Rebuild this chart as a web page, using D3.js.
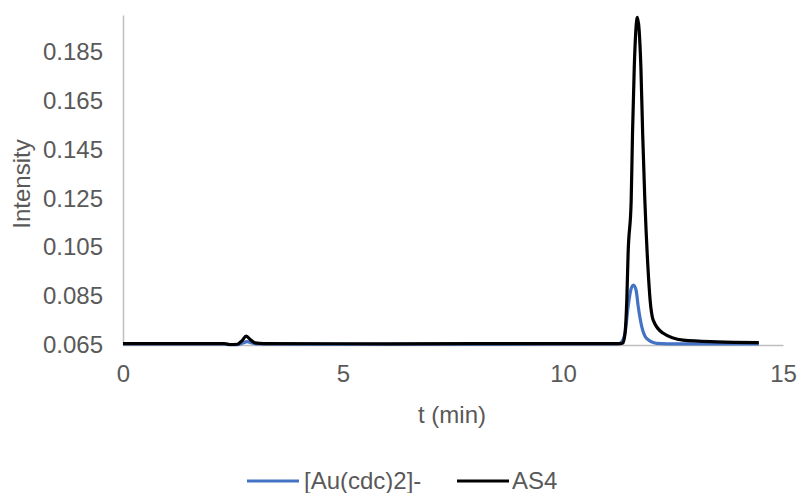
<!DOCTYPE html>
<html><head><meta charset="utf-8">
<script src="https://cdn.jsdelivr.net/npm/d3@7"></script>
<style>body{margin:0;background:#fff}svg{display:block}text{font-family:"Liberation Sans",Arial,sans-serif}</style>
</head><body><svg id="c" width="799" height="493"></svg>
<script>
// Data
const seriesNames = ["[Au(cdc)2]-", "AS4"];
const auTime = [0, 2.3, 2.45, 2.6, 2.72, 2.82, 2.95, 3.1, 6, 10, 11.25, 11.32, 11.41, 11.48, 11.54, 11.60, 11.66, 11.71, 11.79, 11.90, 12.13, 12.36, 13.5, 14.45];
const auValue = [0.0655, 0.0654, 0.0651, 0.0651, 0.0658, 0.0664, 0.0657, 0.0654, 0.0653, 0.0654, 0.0655, 0.0660, 0.0699, 0.0807, 0.0875, 0.0895, 0.0875, 0.0807, 0.0725, 0.0677, 0.0657, 0.0655, 0.0655, 0.0655];
const as4Time = [0, 2.3, 2.42, 2.6, 2.7, 2.8, 2.9, 3.0, 3.2, 6, 10, 11.3, 11.36, 11.41, 11.45, 11.48, 11.55, 11.58, 11.62, 11.69, 11.77, 11.81, 11.86, 11.93, 11.98, 12.05, 12.27, 12.73, 13.5, 14.45];
const as4Value = [0.0656, 0.0656, 0.0652, 0.0653, 0.0667, 0.0686, 0.0671, 0.0659, 0.0656, 0.0655, 0.0656, 0.0656, 0.0658, 0.0699, 0.0834, 0.1026, 0.1243, 0.1517, 0.1788, 0.1990, 0.1788, 0.1517, 0.1243, 0.0969, 0.0834, 0.0752, 0.0699, 0.0670, 0.0663, 0.0660];
const xTicks = [0, 5, 10, 15];
const yTicks = [0.065, 0.085, 0.105, 0.125, 0.145, 0.165, 0.185];
const colors = ["#4472C4", "#000000"];

const FS = "24px";
const svg = d3.select("#c");
const x = d3.scaleLinear().domain([0, 15]).range([123, 783]);
const y = d3.scaleLinear().domain([0.065, 0.2]).range([345, 15]);

// axes
const xa = svg.append("g").attr("transform", "translate(0,345)")
  .call(d3.axisBottom(x).tickValues(xTicks).tickSize(0).tickPadding(20).tickFormat(d3.format("d")));
const ya = svg.append("g").attr("transform", "translate(123,0)")
  .call(d3.axisLeft(y).tickValues(yTicks).tickSize(0).tickPadding(20).tickFormat(d3.format(".3f")));
[xa, ya].forEach(g => {
  g.select(".domain").attr("stroke", "#BFBFBF").attr("stroke-width", 1.5);
  g.selectAll("text").attr("fill", "#595959").style("font-size", FS).style("font-family", '"Liberation Sans",Arial,sans-serif');
});

const line = d3.line().x(d => x(d[0])).y(d => y(d[1])).curve(d3.curveMonotoneX);
const data = [d3.zip(auTime, auValue), d3.zip(as4Time, as4Value)];
data.forEach((pts, i) => {
  svg.append("path").datum(pts).attr("d", line).attr("fill", "none")
    .attr("stroke", colors[i]).attr("stroke-width", 3.2).attr("stroke-linejoin", "round");
});

// axis titles
svg.append("text").attr("x", 452).attr("y", 423).attr("text-anchor", "middle")
  .attr("fill", "#595959").style("font-size", FS).text("t (min)");
svg.append("text").attr("transform", "translate(30,184) rotate(-90)").attr("text-anchor", "middle")
  .attr("fill", "#595959").style("font-size", FS).text("Intensity");

// legend
const lg = [{x: 247, tx: 304}, {x: 457, tx: 512}];
lg.forEach((p, i) => {
  svg.append("line").attr("x1", p.x).attr("x2", p.x + 52).attr("y1", 481).attr("y2", 481)
    .attr("stroke", colors[i]).attr("stroke-width", 3);
  svg.append("text").attr("x", p.tx).attr("y", 489).attr("fill", "#595959").style("font-size", FS).text(seriesNames[i]);
});
</script></body></html>
